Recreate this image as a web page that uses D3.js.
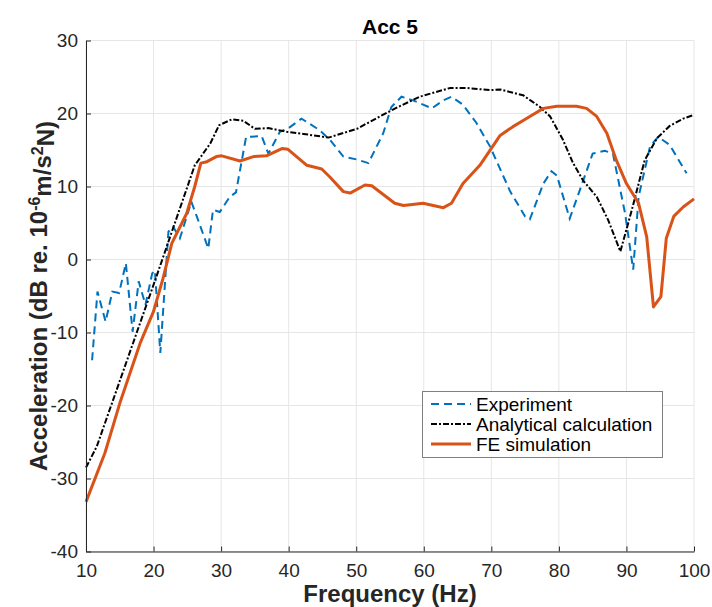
<!DOCTYPE html>
<html>
<head>
<meta charset="utf-8">
<script src="https://cdn.jsdelivr.net/npm/d3@7"></script>
<style>
  body { margin: 0; background: #fff; }
  svg { display: block; font-family: "Liberation Sans", Arial, Helvetica, sans-serif; }
</style>
</head>
<body>
<svg id="chart" width="712" height="607"></svg>
<script>
// ---- data ----
const title = "Acc 5";
const xTicks = [10, 20, 30, 40, 50, 60, 70, 80, 90, 100];
const yTicks = [-40, -30, -20, -10, 0, 10, 20, 30];
const seriesNames = ["Experiment", "Analytical calculation", "FE simulation"];

const expFreq = [10.9, 11.7, 12.9, 13.9, 14.9, 15.9, 16.9, 17.8, 18.8, 19.8, 20.2, 21.0, 22.2, 22.9, 23.9, 25.6, 26.4, 28.1, 28.8, 29.8, 31.3, 32.2, 33.7, 36.0, 37.0, 38.7, 40.0, 41.9, 44.6, 46.1, 48.1, 50.1, 51.8, 54.0, 55.2, 56.7, 58.4, 61.2, 62.9, 64.1, 65.8, 67.8, 69.8, 72.8, 75.0, 75.7, 77.7, 78.9, 79.7, 81.6, 83.1, 85.0, 86.8, 88.0, 89.8, 91.0, 91.8, 93.5, 94.7, 96.4, 98.9];
const expVal  = [-13.8, -4.4, -8.5, -4.4, -4.6, -0.5, -9.9, -3.0, -6.2, -1.9, -1.5, -12.8, 3.8, 4.5, 2.9, 7.9, 5.9, 1.5, 6.8, 6.5, 8.6, 9.2, 16.8, 16.9, 14.5, 17.5, 18.0, 19.3, 17.7, 16.4, 14.1, 13.7, 13.2, 17.3, 20.9, 22.3, 21.8, 20.7, 21.8, 22.3, 21.2, 18.7, 15.5, 9.3, 5.9, 5.5, 10.4, 12.1, 11.5, 5.6, 9.5, 14.5, 14.9, 14.5, 6.3, -1.4, 8.6, 15.5, 16.8, 15.7, 11.8];

const anaFreq = [10, 11.6, 20.4, 26.1, 28.4, 29.7, 31.6, 33.3, 35.0, 37.0, 39.7, 42.2, 45.9, 50.1, 53.5, 56.0, 59.4, 63.9, 66.3, 69.8, 71.3, 74.7, 77.2, 78.7, 80.6, 82.1, 83.6, 85.6, 87.3, 89.1, 90.8, 92.7, 94.5, 96.4, 98.4, 100];
const anaVal  = [-28.5, -25.6, -2.4, 12.9, 15.9, 18.4, 19.2, 19.0, 17.9, 18.0, 17.5, 17.2, 16.7, 17.9, 19.6, 20.8, 22.3, 23.5, 23.5, 23.2, 23.3, 22.5, 20.9, 19.6, 16.4, 13.2, 10.8, 8.6, 5.4, 1.1, 6.8, 13.6, 16.6, 18.3, 19.3, 19.8];

const feFreq = [10, 12.8, 15.0, 18.0, 20.0, 21.4, 22.7, 24.9, 26.1, 27.0, 27.9, 29.3, 30.1, 32.8, 34.8, 36.7, 39.0, 39.9, 42.7, 44.9, 46.1, 48.1, 49.1, 51.3, 52.3, 55.7, 57.0, 59.9, 62.9, 64.1, 65.8, 68.3, 71.3, 73.2, 75.7, 77.7, 79.7, 82.6, 84.1, 85.6, 87.1, 88.5, 90.0, 91.8, 93.0, 94.0, 95.1, 95.9, 97.0, 98.4, 100];
const feVal  = [-33.2, -26.5, -19.7, -11.5, -7.1, -2.6, 2.2, 6.3, 10.0, 13.2, 13.4, 14.1, 14.2, 13.5, 14.1, 14.2, 15.2, 15.1, 12.9, 12.4, 11.3, 9.3, 9.1, 10.2, 10.1, 7.7, 7.4, 7.7, 7.1, 7.7, 10.4, 12.9, 17.0, 18.2, 19.6, 20.7, 21.0, 21.0, 20.7, 19.6, 17.3, 13.6, 10.4, 7.7, 3.1, -6.5, -5.1, 2.9, 5.9, 7.2, 8.3];

// ---- layout ----
const svg = d3.select("#chart");
const mLeft = 86, mRight = 694, mTop = 40.5, mBottom = 551.5;
const x = d3.scaleLinear().domain([10, 100]).range([mLeft, mRight]);
const y = d3.scaleLinear().domain([-40, 30]).range([mBottom, mTop]);
const axisColor = "#262626";
const gridColor = "#e6e6e6";

// grid
const grid = svg.append("g");
grid.selectAll(".gx").data(xTicks).enter().append("line")
  .attr("x1", d => x(d)).attr("x2", d => x(d))
  .attr("y1", mTop).attr("y2", mBottom)
  .attr("stroke", gridColor).attr("stroke-width", 1);
grid.selectAll(".gy").data(yTicks).enter().append("line")
  .attr("x1", mLeft).attr("x2", mRight)
  .attr("y1", d => y(d)).attr("y2", d => y(d))
  .attr("stroke", gridColor).attr("stroke-width", 1);

// series
const pts = (fs, vs) => fs.map((f, i) => [f, vs[i]]);
const line = d3.line().x(d => x(d[0])).y(d => y(d[1]));
const plot = svg.append("g");
plot.append("path").datum(pts(expFreq, expVal))
  .attr("d", line).attr("fill", "none")
  .attr("stroke", "#0072BD").attr("stroke-width", 2)
  .attr("stroke-dasharray", "8,5");
plot.append("path").datum(pts(anaFreq, anaVal))
  .attr("d", line).attr("fill", "none")
  .attr("stroke", "#000").attr("stroke-width", 2)
  .attr("stroke-dasharray", "6,2,2,2");
plot.append("path").datum(pts(feFreq, feVal))
  .attr("d", line).attr("fill", "none")
  .attr("stroke", "#D95319").attr("stroke-width", 3)
  .attr("stroke-linejoin", "round");

// axes
const fmt = d => String(d);
const xAxis = d3.axisBottom(x).tickValues(xTicks).tickFormat(fmt).tickSizeInner(-5).tickSizeOuter(0).tickPadding(9);
const yAxis = d3.axisLeft(y).tickValues(yTicks).tickFormat(fmt).tickSizeInner(-5).tickSizeOuter(0).tickPadding(8);
const gx = svg.append("g").attr("transform", `translate(0,${mBottom})`).call(xAxis);
const gy = svg.append("g").attr("transform", `translate(${mLeft},0)`).call(yAxis);
[gx, gy].forEach(g => {
  g.select(".domain").attr("stroke", axisColor).attr("stroke-width", 1);
  g.selectAll(".tick line").attr("stroke", axisColor);
  g.selectAll(".tick text").attr("fill", axisColor)
    .style("font-size", "19px").style("font-family", "Liberation Sans, Arial, sans-serif");
});
gx.selectAll(".tick text").attr("dy", "0.85em");

// title
svg.append("text").attr("x", x(55)).attr("y", 34)
  .attr("text-anchor", "middle").attr("font-weight", "bold")
  .attr("font-size", "21px").attr("fill", "#000").text(title);

// x label
svg.append("text").attr("x", x(55)).attr("y", 602)
  .attr("text-anchor", "middle").attr("font-weight", "bold")
  .attr("font-size", "24px").attr("fill", axisColor).text("Frequency (Hz)");

// y label
const yl = svg.append("text")
  .attr("transform", `translate(47,${(mTop + mBottom) / 2}) rotate(-90)`)
  .attr("text-anchor", "middle").attr("font-weight", "bold")
  .attr("font-size", "24px").attr("fill", axisColor);
yl.append("tspan").text("Acceleration (dB re. 10");
yl.append("tspan").attr("dy", "-0.45em").attr("font-size", "16px").text("-6");
yl.append("tspan").attr("dy", "0.45em").text("m/s");
yl.append("tspan").attr("dy", "-0.45em").attr("font-size", "16px").text("2");
yl.append("tspan").attr("dy", "0.45em").text("N)");

// legend
const lg = svg.append("g");
lg.append("rect").attr("x", 422.5).attr("y", 391.5).attr("width", 240).attr("height", 66)
  .attr("fill", "#fff").attr("stroke", "#808080").attr("stroke-width", 1);
const legStyles = [
  { stroke: "#0072BD", w: 2, dash: "8,5" },
  { stroke: "#000", w: 2, dash: "6,2,2,2" },
  { stroke: "#D95319", w: 3, dash: null }
];
seriesNames.forEach((name, i) => {
  const yy = 404 + i * 20;
  lg.append("line").attr("x1", 431).attr("x2", 471).attr("y1", yy).attr("y2", yy)
    .attr("stroke", legStyles[i].stroke).attr("stroke-width", legStyles[i].w)
    .attr("stroke-dasharray", legStyles[i].dash);
  lg.append("text").attr("x", 476).attr("y", yy).attr("dy", "0.35em")
    .attr("font-size", "19px").attr("fill", "#000").text(name);
});
</script>
</body>
</html>
